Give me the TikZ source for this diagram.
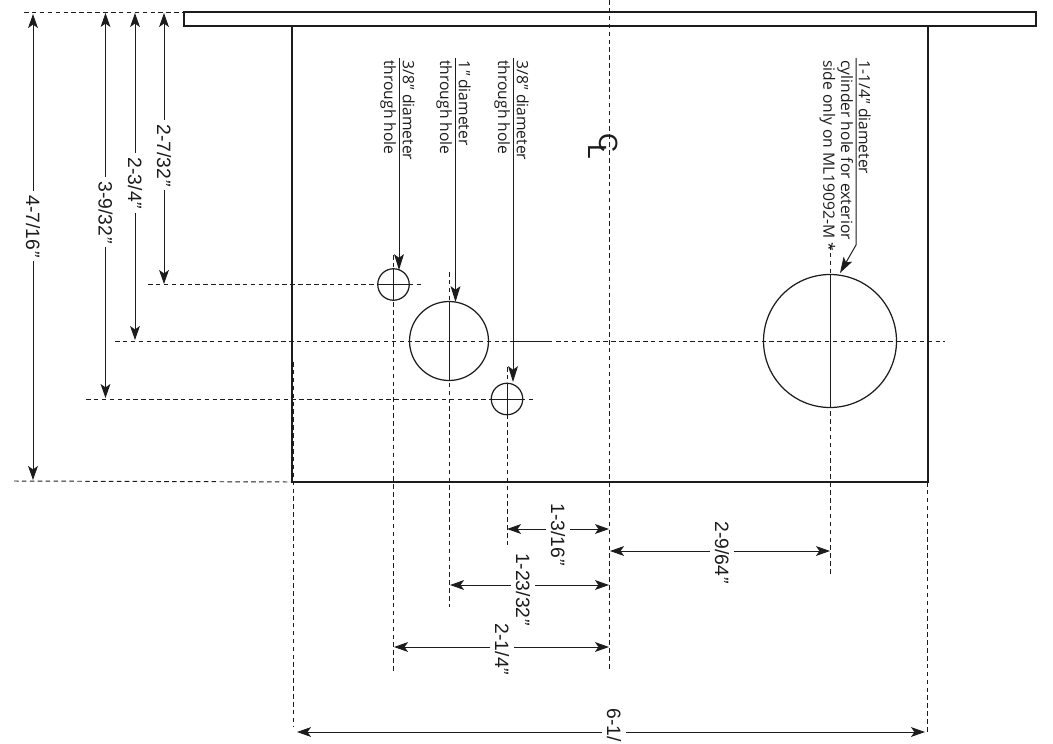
\documentclass[tikz,border=0pt]{standalone}
\usepackage{fontspec}
\setmainfont{Liberation Sans}
\newfontfamily\notefont{Open Sans}
\usetikzlibrary{arrows.meta}

\definecolor{inkblack}{HTML}{1C1C1C}

\begin{document}
\begin{tikzpicture}[x=0.02cm, y=-0.02cm, color=inkblack,
    thin_line/.style={line width=0.55pt},
    thick_line/.style={line width=1.1pt},
    center_line/.style={line width=0.55pt, dash pattern=on 2.6pt off 1.9pt},
    dim_line/.style={line width=0.55pt, {Stealth[length=8pt,width=5.6pt,inset=2pt]}-{Stealth[length=8pt,width=5.6pt,inset=2pt]}},
    leader_line/.style={line width=0.55pt, -{Stealth[length=9pt,width=5.6pt,inset=2pt]}},
    hole_node/.style={circle, draw, line width=0.7pt, inner sep=0pt},
    dim_label/.style={rotate=-90, fill=white, font=\fontsize{11}{13}\selectfont, inner xsep=2.5pt, inner ysep=2.8pt},
    note_label/.style={rotate=-90, anchor=north west, align=left, inner sep=0pt, font=\notefont\fontsize{8.9}{10.6}\selectfont}]
    \useasboundingbox (0, 0) rectangle (1053, 743);

    % plate and flange
    \node[draw, thick_line, minimum width=17.04cm, minimum height=0.28cm, inner sep=0pt] (flange) at (610, 19) {};
    \coordinate (body_nw) at (292, 26);
    \coordinate (body_sw) at (292, 482);
    \coordinate (body_se) at (928, 482);
    \coordinate (body_ne) at (928, 26);
    \draw[thick_line] (body_nw) -- (body_sw) -- (body_se) -- (body_ne);

    % holes
    \node[hole_node, minimum size=0.63cm] (hole_a) at (393.5, 284.5) {};
    \node[hole_node, minimum size=1.58cm] (hole_b) at (449, 341) {};
    \node[hole_node, minimum size=0.63cm] (hole_c) at (507, 399) {};
    \node[hole_node, minimum size=2.66cm] (hole_d) at (830, 341) {};

    % extension and center lines
    \coordinate (top_l) at (24, 12);
    \coordinate (top_r) at (184, 12);
    \coordinate (bot_l) at (14, 481);
    \coordinate (a_l) at (148, 284.5);
    \coordinate (a_r) at (422, 284.5);
    \coordinate (b_l) at (115, 341);
    \coordinate (b_m) at (513, 341);
    \coordinate (b_n) at (552, 341);
    \coordinate (b_o) at (556, 341);
    \coordinate (b_r) at (945, 341);
    \coordinate (c_l) at (86, 399);
    \coordinate (c_r) at (534, 399);
    \coordinate (va_t) at (393.5, 255);
    \coordinate (va_b) at (393.5, 671);
    \coordinate (vb_t) at (449, 272);
    \coordinate (vb_b) at (449, 607);
    \coordinate (vc_t) at (507, 367);
    \coordinate (vc_b) at (507, 545);
    \coordinate (vd_t) at (830, 245);
    \coordinate (vd_b) at (830, 577);
    \coordinate (cl_t) at (609, 0);
    \coordinate (cl_b) at (609, 672);
    \coordinate (left_t) at (293, 362);
    \coordinate (left_b) at (293, 726);
    \coordinate (right_t) at (927, 482);
    \coordinate (right_b) at (927, 733);
    \draw[center_line] (top_l) -- (top_r);
    \draw[center_line] (bot_l) -- (body_sw);
    \draw[center_line] (a_l) -- (a_r);
    \draw[center_line] (b_l) -- (b_m);
    \draw[center_line] (b_o) -- (b_r);
    \draw[center_line] (c_l) -- (c_r);
    \draw[center_line] (va_t) -- (va_b);
    \draw[center_line] (vb_t) -- (vb_b);
    \draw[center_line] (vc_t) -- (vc_b);
    \draw[center_line] (vd_t) -- (vd_b);
    \draw[center_line] (cl_t) -- (cl_b);
    \draw[center_line] (left_t) -- (left_b);
    \draw[center_line] (right_t) -- (right_b);

    % solid parts of the center lines
    \draw[thin_line] (b_m) -- (b_n);
    \draw[thin_line] (hole_a.west) -- (hole_a.east);
    \draw[thin_line] (hole_a.north) -- (hole_a.south);
    \draw[thin_line] (hole_b.north) -- (hole_b.south);
    \draw[thin_line] (hole_c.west) -- (hole_c.east);
    \draw[thin_line] (hole_c.north) -- (hole_c.south);
    \draw[thin_line] (hole_d.north) -- (hole_d.south);

    % notes
    \node[note_label] (note_a) at (415, 60) {3/8{\itshape"} diameter\\through hole};
    \node[note_label] (note_b) at (471, 60) {1{\itshape"} diameter\\through hole};
    \node[note_label] (note_c) at (529, 60) {3/8{\itshape"} diameter\\through hole};
    \node[note_label, font=\notefont\fontsize{8.9}{10.1}\selectfont] (note_d) at (871, 60) {1-1/4{\itshape"} diameter\\cylinder hole for exterior\\side only on ML19092-M *};
    \node[rotate=-90, font=\fontsize{15}{15}\selectfont, inner sep=0pt] (cl_c) at (609, 143) {C};
    \node[rotate=-90, font=\fontsize{15}{15}\selectfont, inner sep=0pt] (cl_l) at (598, 152) {L};

    % leaders
    \coordinate (lead_a) at (399, 58);
    \coordinate (tip_a) at (399, 270);
    \coordinate (lead_b) at (455.5, 58);
    \coordinate (tip_b) at (455.5, 302);
    \coordinate (lead_c) at (513, 58);
    \coordinate (tip_c) at (513, 382);
    \coordinate (lead_d) at (856, 58);
    \coordinate (bend_d) at (856, 245);
    \coordinate (tip_d) at (840, 273);
    \draw[leader_line] (lead_a) -- (tip_a);
    \draw[leader_line] (lead_b) -- (tip_b);
    \draw[leader_line] (lead_c) -- (tip_c);
    \draw[leader_line] (lead_d) -- (bend_d) -- (tip_d);

    % dimensions
    \coordinate (dim_a1) at (33, 14);
    \coordinate (dim_a2) at (33, 480);
    \coordinate (dim_b1) at (105.5, 13);
    \coordinate (dim_b2) at (105.5, 398);
    \coordinate (dim_c1) at (135, 13);
    \coordinate (dim_c2) at (135, 340);
    \coordinate (dim_d1) at (164, 13);
    \coordinate (dim_d2) at (164, 284);
    \coordinate (dim_e1) at (507, 529);
    \coordinate (dim_e2) at (609, 529);
    \coordinate (dim_f1) at (610, 551);
    \coordinate (dim_f2) at (830, 551);
    \coordinate (dim_g1) at (450, 585);
    \coordinate (dim_g2) at (609, 585);
    \coordinate (dim_h1) at (394, 647);
    \coordinate (dim_h2) at (609, 647);
    \coordinate (dim_i1) at (297, 732);
    \coordinate (dim_i2) at (925, 732);
    \draw[dim_line] (dim_a1) -- (dim_a2);
    \draw[dim_line] (dim_b1) -- (dim_b2);
    \draw[dim_line] (dim_c1) -- (dim_c2);
    \draw[dim_line] (dim_d1) -- (dim_d2);
    \draw[dim_line] (dim_e1) -- (dim_e2);
    \draw[dim_line] (dim_f1) -- (dim_f2);
    \draw[dim_line] (dim_g1) -- (dim_g2);
    \draw[dim_line] (dim_h1) -- (dim_h2);
    \draw[dim_line] (dim_i1) -- (dim_i2);
    \node[dim_label] (label_a) at (33, 226) {4-7/16{\itshape"}};
    \node[dim_label] (label_b) at (105.5, 212) {3-9/32{\itshape"}};
    \node[dim_label] (label_c) at (135, 183) {2-3/4{\itshape"}};
    \node[dim_label] (label_d) at (164, 155) {2-7/32{\itshape"}};
    \node[dim_label] (label_e) at (558, 534) {1-3/16{\itshape"}};
    \node[dim_label] (label_f) at (722, 552) {2-9/64{\itshape"}};
    \node[dim_label] (label_g) at (523, 589) {1-23/32{\itshape"}};
    \node[dim_label] (label_h) at (502, 649) {2-1/4{\itshape"}};
    \node[dim_label] (label_i) at (614, 725) {6-1/};
\end{tikzpicture}
\end{document}
